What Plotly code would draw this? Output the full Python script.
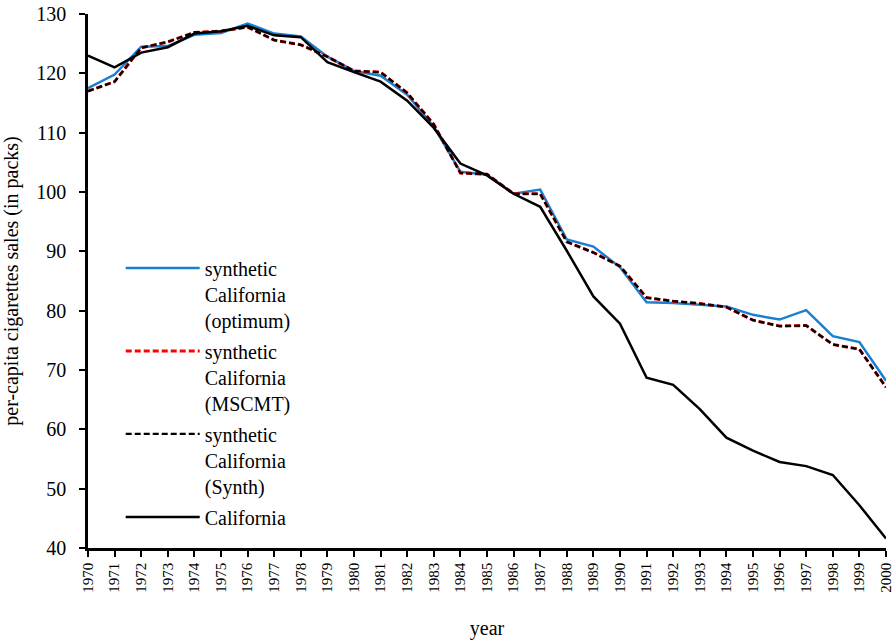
import plotly.graph_objects as go

years = list(range(1970, 2001))

california = [123.0, 121.0, 123.5, 124.4, 126.7, 127.1, 128.0, 126.4, 126.1, 121.9,
              120.2, 118.6, 115.4, 110.8, 104.8, 102.8, 99.7, 97.5, 90.1, 82.4,
              77.8, 68.7, 67.5, 63.4, 58.6, 56.4, 54.5, 53.8, 52.3, 47.2, 41.6]

synth_optimum = [117.5, 119.8, 124.5, 124.6, 126.5, 126.8, 128.4, 126.7, 126.2, 122.8,
                 120.4, 119.6, 116.4, 111.0, 103.4, 102.9, 99.7, 100.4, 92.0, 90.8,
                 87.3, 81.4, 81.3, 81.0, 80.7, 79.3, 78.5, 80.1, 75.7, 74.7, 68.2]

synth_mscmt = [117.0, 118.6, 124.3, 125.3, 126.9, 127.1, 127.8, 125.6, 124.8, 122.8,
               120.4, 120.2, 116.7, 111.4, 103.2, 103.0, 99.7, 99.7, 91.6, 89.8,
               87.5, 82.2, 81.6, 81.2, 80.6, 78.4, 77.4, 77.5, 74.3, 73.5, 67.1]

synth_synth = [117.0, 118.6, 124.3, 125.3, 126.9, 127.1, 127.8, 125.6, 124.8, 122.8,
               120.4, 120.2, 116.7, 111.4, 103.2, 103.0, 99.7, 99.7, 91.6, 89.8,
               87.5, 82.2, 81.6, 81.2, 80.6, 78.4, 77.4, 77.5, 74.3, 73.5, 67.1]

names = ["synthetic<br>California<br>(optimum)",
         "synthetic<br>California<br>(MSCMT)",
         "synthetic<br>California<br>(Synth)",
         "California"]

FONT = "Liberation Serif"

fig = go.Figure()
fig.add_trace(go.Scatter(x=years, y=synth_optimum, mode="lines", name=names[0],
                         legendgroup="g1",
                         line=dict(color="#1a7fd0", width=2.5)))
fig.add_trace(go.Scatter(x=years, y=synth_mscmt, mode="lines", name=names[1],
                         legendgroup="g2",
                         line=dict(color="#ff0000", width=3, dash="6px,3px")))
fig.add_trace(go.Scatter(x=years, y=synth_synth, mode="lines", name=names[2],
                         legendgroup="g3",
                         line=dict(color="#000000", width=2.2, dash="6px,3px")))
fig.add_trace(go.Scatter(x=years, y=california, mode="lines", name=names[3],
                         legendgroup="g4",
                         line=dict(color="#000000", width=2.5)))

fig.update_layout(
    width=895, height=640,
    margin=dict(l=88, r=9, t=14, b=92),
    paper_bgcolor="white", plot_bgcolor="white",
    font=dict(family=FONT, size=20, color="black"),
    showlegend=True,
    legend=dict(x=0.041, y=0.561, xanchor="left", yanchor="top",
                bgcolor="rgba(0,0,0,0)", font=dict(family=FONT, size=20),
                itemwidth=74, tracegroupgap=2, valign="top",
                traceorder="grouped"),
    xaxis=dict(range=[1970, 2000], tickmode="array", tickvals=years,
               ticktext=[str(y) for y in years], tickangle=-90,
               showline=True, linecolor="black", linewidth=2.5,
               ticks="outside", ticklen=6, tickwidth=1.5, tickcolor="black",
               showgrid=False, zeroline=False, automargin=False,
               tickfont=dict(family=FONT, size=15),
               title=dict(text="year", font=dict(family=FONT, size=20), standoff=30)),
    yaxis=dict(range=[40, 130], tickmode="array", tickvals=list(range(40, 131, 10)),
               showline=True, linecolor="black", linewidth=2.5,
               ticks="outside", ticklen=6, tickwidth=1.5, tickcolor="black",
               showgrid=False, zeroline=False, automargin=False,
               ticklabelstandoff=9,
               tickfont=dict(family=FONT, size=20),
               title=dict(text="per-capita cigarettes sales (in packs)",
                          font=dict(family=FONT, size=20), standoff=13)),
)

fig.write_html("out.html",
               config={"displayModeBar": False},
               post_script="document.body.style.margin='0px';document.body.style.overflow='hidden';")
